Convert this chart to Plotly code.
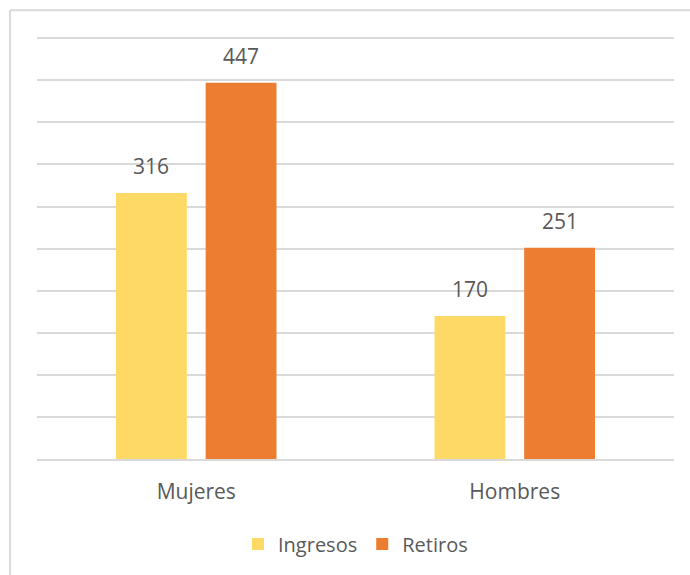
import plotly.graph_objects as go

categories = ["Mujeres", "Hombres"]
ingresos = [316, 170]
retiros = [447, 251]
series_names = ["Ingresos", "Retiros"]
series_colors = ["#FFD966", "#ED7D31"]

FONT = "Open Sans"
TEXT_COLOR = "#595959"
GRID_COLOR = "#D9D9D9"
SIZE = 21

fig = go.Figure()
for name, vals, col in zip(series_names, [ingresos, retiros], series_colors):
    fig.add_trace(go.Bar(
        x=categories, y=vals, name=name,
        marker=dict(color=col, line=dict(width=0)),
    ))

# value labels above each bar (group offsets in pixels)
offsets = [-45, 45]
for vals, dx in zip([ingresos, retiros], offsets):
    for cat, v in zip(categories, vals):
        fig.add_annotation(
            x=cat, y=v, xref="x", yref="y", text=str(v),
            showarrow=False, xshift=dx, yanchor="bottom", yshift=11,
            font=dict(family=FONT, size=SIZE, color=TEXT_COLOR),
        )

# chart-area frame (left and top edges)
fig.add_shape(type="line", xref="paper", yref="paper",
              x0=-0.0423, x1=1.1, y0=1.056, y1=1.056,
              line=dict(color=GRID_COLOR, width=2))
fig.add_shape(type="line", xref="paper", yref="paper",
              x0=-0.0423, x1=-0.0423, y0=1.056, y1=-0.4,
              line=dict(color=GRID_COLOR, width=2))

fig.update_layout(
    width=690, height=575,
    margin=dict(l=37, r=16, t=34, b=113),
    paper_bgcolor="white", plot_bgcolor="white",
    barmode="group", bargap=0.437, bargroupgap=0.21,
    font=dict(family=FONT, size=SIZE, color=TEXT_COLOR),
    showlegend=True,
    legend=dict(orientation="h", x=0.5, xanchor="center", y=-0.2, yanchor="middle",
                font=dict(family=FONT, size=SIZE - 1, color=TEXT_COLOR),
                itemwidth=30, traceorder="normal"),
    xaxis=dict(showgrid=False, showline=True, linecolor=GRID_COLOR, linewidth=2,
               ticks="", ticklabelstandoff=13,
               tickfont=dict(family=FONT, size=SIZE, color=TEXT_COLOR)),
    yaxis=dict(range=[0, 505], dtick=50, showgrid=True, gridcolor=GRID_COLOR,
               gridwidth=2, showticklabels=False, zeroline=False, showline=False),
)

fig.write_html("out.html")
